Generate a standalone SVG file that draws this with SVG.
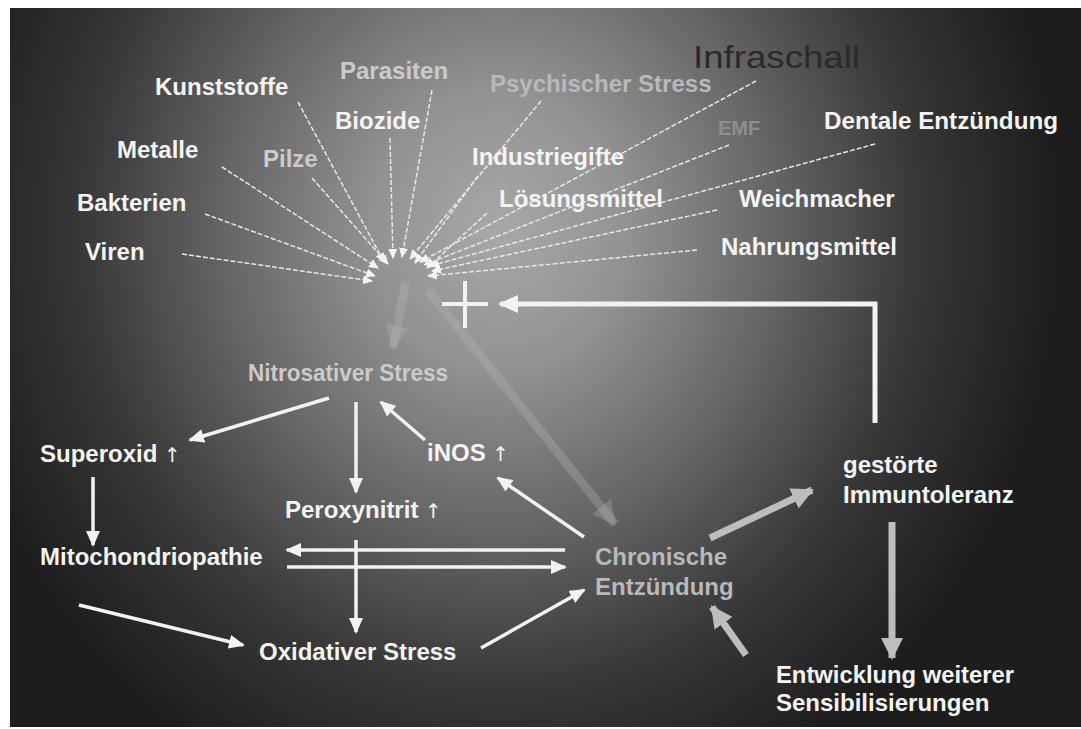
<svg xmlns="http://www.w3.org/2000/svg" width="1081" height="729" viewBox="0 0 1081 729">
<defs>
<radialGradient id="bg" gradientUnits="userSpaceOnUse" cx="500" cy="230" r="560" gradientTransform="translate(500 230) scale(1 1.1) translate(-500 -230)">
<stop offset="0" stop-color="#a8a8a8"/>
<stop offset="0.22" stop-color="#939393"/>
<stop offset="0.48" stop-color="#676767"/>
<stop offset="0.75" stop-color="#373737"/>
<stop offset="1" stop-color="#1d1d1d"/>
</radialGradient>
<marker id="aw" markerUnits="userSpaceOnUse" markerWidth="16" markerHeight="14" refX="14" refY="7" orient="auto"><path d="M0,0 L16,7 L0,14 Z" fill="#f2f2f2"/></marker>
<marker id="af" markerUnits="userSpaceOnUse" markerWidth="20" markerHeight="18" refX="18" refY="9" orient="auto"><path d="M0,0 L20,9 L0,18 Z" fill="#f2f2f2"/></marker>
<marker id="as" markerUnits="userSpaceOnUse" markerWidth="10" markerHeight="9" refX="9" refY="4.5" orient="auto"><path d="M0,0 L10,4.5 L0,9 Z" fill="#f4f4f4"/></marker>
<marker id="ag" markerUnits="userSpaceOnUse" markerWidth="22" markerHeight="22" refX="20" refY="11" orient="auto"><path d="M0,0 L22,11 L0,22 Z" fill="#bdbdbd"/></marker>
<marker id="ap" markerUnits="userSpaceOnUse" markerWidth="24" markerHeight="24" refX="22" refY="12" orient="auto"><path d="M0,0 L24,12 L0,24 Z" fill="#b8b8b8" fill-opacity="0.3"/></marker>
<style>
.t{font-family:"Liberation Sans",Arial,Helvetica,sans-serif;font-weight:bold;font-size:24px;fill:#f4f4f4}
.f{fill:#cbcbcb}
.ff{fill:#b9b9b9}
.arr{font-family:"DejaVu Sans",sans-serif;font-weight:normal;font-size:20px;fill:#f4f4f4}
.fan{stroke:#e8e8e8;stroke-width:1.5;stroke-dasharray:5 2;fill:none;marker-end:url(#as)}
.wa{stroke:#f2f2f2;stroke-width:3.5;fill:none;marker-end:url(#aw)}
.ga{stroke:#bdbdbd;stroke-width:7;fill:none;marker-end:url(#ag)}
.pa{stroke:#b8b8b8;stroke-opacity:0.3;stroke-width:9;fill:none;marker-end:url(#ap)}
</style>
</defs>
<rect width="1081" height="729" fill="#ffffff"/>
<rect x="10" y="8" width="1071" height="719" fill="url(#bg)"/>

<g id="connectors">
<line class="fan" x1="182" y1="254" x2="372" y2="281"/>
<line class="fan" x1="205" y1="214" x2="375" y2="276"/>
<line class="fan" x1="222" y1="167" x2="378" y2="268"/>
<line class="fan" x1="298" y1="102" x2="384" y2="262"/>
<line class="fan" x1="312" y1="178" x2="388" y2="264"/>
<line class="fan" x1="390" y1="138" x2="393" y2="258"/>
<line class="fan" x1="432" y1="90" x2="402" y2="257"/>
<line class="fan" x1="541" y1="101" x2="410" y2="259"/>
<line class="fan" x1="478" y1="176" x2="415" y2="263"/>
<line class="fan" x1="756" y1="81" x2="420" y2="262"/>
<line class="fan" x1="729" y1="145" x2="424" y2="265"/>
<line class="fan" x1="487" y1="213" x2="427" y2="268"/>
<line class="fan" x1="875" y1="144" x2="430" y2="266"/>
<line class="fan" x1="717" y1="210" x2="432" y2="271"/>
<line class="fan" x1="697" y1="250" x2="428" y2="276"/>

<line class="pa" x1="406" y1="282" x2="393" y2="348"/>
<line class="pa" x1="428" y1="290" x2="615" y2="524"/>

<g stroke="#f2f2f2" stroke-width="4">
<line x1="465" y1="281" x2="465" y2="328"/>
<line x1="442" y1="304" x2="488" y2="304"/>
</g>
<path d="M875,423 V304 H500" stroke="#f2f2f2" stroke-width="5" fill="none" marker-end="url(#af)"/>

<line class="wa" x1="329" y1="398" x2="190" y2="440"/>
<line class="wa" x1="356" y1="402" x2="356" y2="492"/>
<line class="wa" x1="425" y1="440" x2="381" y2="402"/>
<line class="wa" x1="584" y1="537" x2="498" y2="478"/>
<line class="wa" x1="93" y1="477" x2="93" y2="545"/>
<line class="wa" x1="565" y1="550" x2="287" y2="550"/>
<line class="wa" x1="287" y1="567" x2="565" y2="567"/>
<line class="wa" x1="356" y1="540" x2="356" y2="632"/>
<line class="wa" x1="79" y1="605" x2="243" y2="645"/>
<line class="wa" x1="481" y1="648" x2="584" y2="590"/>

<line class="ga" x1="710" y1="538" x2="812" y2="490"/>
<line class="ga" x1="892" y1="522" x2="892" y2="658"/>
<line class="ga" x1="746" y1="655" x2="712" y2="607"/>
</g>

<g id="n-kunststoffe"><text class="t" x="155" y="95">Kunststoffe</text></g>
<g id="n-parasiten"><text class="t f" x="340" y="79">Parasiten</text></g>
<g id="n-biozide"><text class="t" x="335" y="129">Biozide</text></g>
<g id="n-psychischer"><text class="t ff" x="490" y="92">Psychischer Stress</text></g>
<g id="n-infraschall"><text x="693" y="68" font-family="Liberation Sans, Arial, sans-serif" font-size="32" fill="#2a2a2a" textLength="167" lengthAdjust="spacingAndGlyphs">Infraschall</text></g>
<g id="n-emf"><text x="718" y="135" font-family="Liberation Sans, Arial, sans-serif" font-size="20" font-weight="bold" fill="#8e8e8e">EMF</text></g>
<g id="n-dentale"><text class="t" x="824" y="129" textLength="234" lengthAdjust="spacingAndGlyphs">Dentale Entzündung</text></g>
<g id="n-metalle"><text class="t" x="117" y="158">Metalle</text></g>
<g id="n-pilze"><text class="t f" x="263" y="167">Pilze</text></g>
<g id="n-industriegifte"><text class="t" x="472" y="165">Industriegifte</text></g>
<g id="n-loesungsmittel"><text class="t" x="499" y="207">Lösungsmittel</text></g>
<g id="n-weichmacher"><text class="t" x="739" y="207">Weichmacher</text></g>
<g id="n-bakterien"><text class="t" x="77" y="211">Bakterien</text></g>
<g id="n-viren"><text class="t" x="85" y="260">Viren</text></g>
<g id="n-nahrungsmittel"><text class="t" x="721" y="255">Nahrungsmittel</text></g>
<g id="n-nitrosativ"><text class="t f" x="248" y="381" textLength="200" lengthAdjust="spacingAndGlyphs">Nitrosativer Stress</text></g>
<g id="n-superoxid"><text class="t" x="40" y="462">Superoxid <tspan class="arr">↑</tspan></text></g>
<g id="n-inos"><text class="t" x="427" y="461">iNOS <tspan class="arr">↑</tspan></text></g>
<g id="n-peroxynitrit"><text class="t" x="285" y="518">Peroxynitrit <tspan class="arr">↑</tspan></text></g>
<g id="n-mito"><text class="t" x="40" y="565">Mitochondriopathie</text></g>
<g id="n-oxidativ"><text class="t" x="259" y="660">Oxidativer Stress</text></g>
<g id="n-chronisch"><text class="t ff" x="595" y="565">Chronische</text><text class="t ff" x="595" y="595">Entzündung</text></g>
<g id="n-immun"><text class="t" x="843" y="473">gestörte</text><text class="t" x="843" y="503">Immuntoleranz</text></g>
<g id="n-entwicklung"><text class="t" x="776" y="683" textLength="238" lengthAdjust="spacingAndGlyphs">Entwicklung weiterer</text><text class="t" x="776" y="711">Sensibilisierungen</text></g>
</svg>
